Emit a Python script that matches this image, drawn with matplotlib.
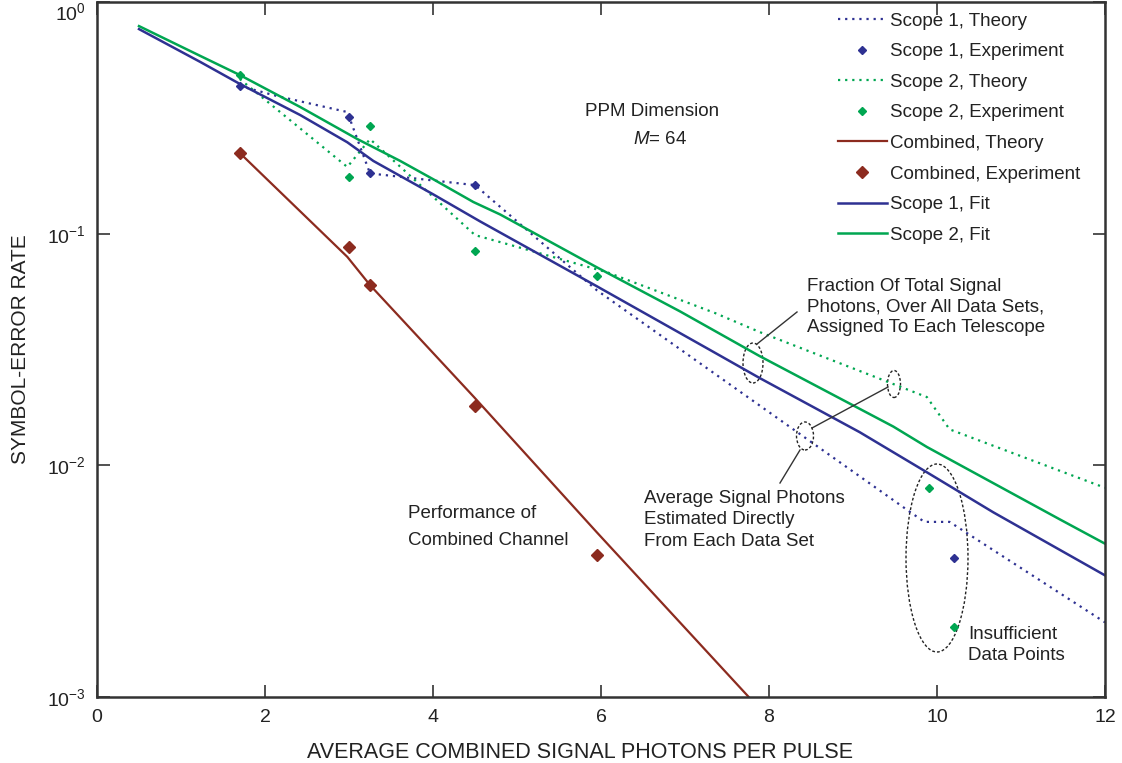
import matplotlib
matplotlib.use('Agg')
import matplotlib.pyplot as plt
from matplotlib.patches import Ellipse

plt.rcParams['font.family'] = ['Liberation Sans', 'DejaVu Sans']
plt.rcParams['mathtext.fontset'] = 'custom'
plt.rcParams['mathtext.rm'] = 'Liberation Sans'
plt.rcParams['mathtext.it'] = 'Liberation Sans:italic'

# experiment points
s1_exp_x = [1.7, 3.0, 3.25, 4.5, 10.2]
s1_exp_y = [0.434, 0.319, 0.182, 0.162, 0.0040]
s2_exp_x = [1.7, 3.0, 3.25, 4.5, 5.95, 9.9, 10.2]
s2_exp_y = [0.484, 0.175, 0.291, 0.084, 0.0655, 0.0080, 0.0020]
comb_exp_x = [1.7, 3.0, 3.25, 4.5, 5.95]
comb_exp_y = [0.223, 0.0874, 0.060, 0.018, 0.0041]

# theory curves
s1_th_x = [1.7, 2.14, 2.98, 3.25, 4.5, 5.95, 7.9, 9.65, 9.85, 10.15, 12]
s1_th_y = [0.434, 0.393, 0.335, 0.182, 0.162, 0.057, 0.018, 0.0064, 0.0057, 0.0057, 0.0021]
s2_th_x = [1.7, 2.98, 3.25, 4.5, 4.94, 6.08, 7.36, 7.89, 9.88, 10.15, 12]
s2_th_y = [0.465, 0.194, 0.256, 0.0986, 0.089, 0.068, 0.0454, 0.0376, 0.0197, 0.0143, 0.0080]
comb_th_x = [1.7, 2.98, 3.25, 4.5, 5.95, 7.9]
comb_th_y = [0.223, 0.0794, 0.060, 0.0195, 0.00514, 0.00088]

# fits
s1_fit_x = [0.5, 1.23, 1.7, 2.42, 2.98, 3.29, 4.0, 4.56, 5.95, 7.33, 7.89, 9.08, 9.88, 10.67, 12]
s1_fit_y = [0.764, 0.551, 0.443, 0.325, 0.248, 0.206, 0.148, 0.113, 0.0593, 0.0310, 0.0238,
            0.0139, 0.00933, 0.00627, 0.00335]
s2_fit_x = [0.5, 1.23, 1.7, 2.42, 3.1, 3.61, 4.0, 4.48, 4.8, 5.95, 6.94, 7.89, 9.48, 9.88, 11.46, 12]
s2_fit_y = [0.787, 0.585, 0.484, 0.352, 0.256, 0.206, 0.172, 0.137, 0.121, 0.0716, 0.0462,
            0.0296, 0.0147, 0.0120, 0.00585, 0.00459]

blue = '#2e3192'
green = '#00a651'
red = '#8c2b1f'
dk = '#333333'
txt = '#222222'

fig = plt.figure(figsize=(11.22, 7.63), dpi=100)
ax = fig.add_axes([97/1122, 66/763, 1008/1122, 695/763])

ax.plot(s1_th_x, s1_th_y, color=blue, ls=(0, (1, 2.2)), lw=1.6, label='Scope 1, Theory')
ax.plot(s1_exp_x, s1_exp_y, 'D', color=blue, ms=4.5, ls='none', label='Scope 1, Experiment')
ax.plot(s2_th_x, s2_th_y, color=green, ls=(0, (1, 2.2)), lw=1.6, label='Scope 2, Theory')
ax.plot(s2_exp_x, s2_exp_y, 'D', color=green, ms=4.5, ls='none', label='Scope 2, Experiment')
ax.plot(comb_th_x, comb_th_y, color=red, lw=1.6, label='Combined, Theory')
ax.plot(comb_exp_x, comb_exp_y, 'D', color=red, ms=6.5, ls='none', label='Combined, Experiment')
ax.plot(s1_fit_x, s1_fit_y, color=blue, lw=1.8, label='Scope 1, Fit')
ax.plot(s2_fit_x, s2_fit_y, color=green, lw=1.8, label='Scope 2, Fit')

ax.set_yscale('log')
ax.set_xlim(0, 12)
ax.set_ylim(1e-3, 1)
ax.set_xticks([0, 2, 4, 6, 8, 10, 12])
ax.set_yticks([1e-3, 1e-2, 1e-1, 1])
ax.minorticks_off()
ax.tick_params(direction='in', length=9, width=1.2, color=dk, labelsize=14,
               labelcolor=txt, top=True, right=True)
ax.tick_params(axis='x', pad=9)
ax.tick_params(axis='y', pad=8)
for s in ax.spines.values():
    s.set_linewidth(1.8)
    s.set_color(dk)

fig.canvas.draw()
ax.get_yticklabels()[-1].set_va('top')

ax.set_xlabel('AVERAGE COMBINED SIGNAL PHOTONS PER PULSE', fontsize=15.5, color=txt, labelpad=8)
ax.xaxis.set_label_coords((580 - 97) / 1008, -0.065)
ax.set_ylabel('SYMBOL-ERROR RATE', fontsize=15, color=txt, labelpad=12)

leg = ax.legend(loc='upper left', bbox_to_anchor=(0.735, 0.985), frameon=False, fontsize=13.5,
                handlelength=2.6, handletextpad=0.2, labelspacing=0.72, borderaxespad=0,
                borderpad=0)
for t in leg.get_texts():
    t.set_color(txt)


def axfrac(px, py):
    return ((px - 97) / 1008, (697 - py) / 695)


# annotations
fs = 13.5
ax.text(*axfrac(652, 112), 'PPM Dimension', fontsize=fs, ha='center', va='center',
        color=txt, transform=ax.transAxes)
ax.text(*axfrac(660, 140), '$M$= 64', fontsize=fs, ha='center', va='center',
        color=txt, transform=ax.transAxes)
ax.text(*axfrac(807, 307), 'Fraction Of Total Signal\nPhotons, Over All Data Sets,\nAssigned To Each Telescope',
        fontsize=fs, ha='left', va='center', linespacing=1.3, color=txt, transform=ax.transAxes)
ax.text(*axfrac(644, 520), 'Average Signal Photons\nEstimated Directly\nFrom Each Data Set',
        fontsize=fs, ha='left', va='center', linespacing=1.35, color=txt, transform=ax.transAxes)
ax.text(*axfrac(408, 527), 'Performance of\nCombined Channel', fontsize=fs, ha='left', va='center',
        linespacing=1.8, color=txt, transform=ax.transAxes)
ax.text(*axfrac(968, 645), 'Insufficient\nData Points', fontsize=fs, ha='left', va='center',
        linespacing=1.35, color=txt, transform=ax.transAxes)

ell_kw = dict(fill=False, ls=(0, (2, 1.5)), lw=1.0, ec=txt, transform=ax.transAxes)
ax.add_patch(Ellipse(axfrac(753, 363), 20/1008, 40/695, **ell_kw))
ax.add_patch(Ellipse(axfrac(894, 384), 13/1008, 27/695, **ell_kw))
ax.add_patch(Ellipse(axfrac(805, 436), 17/1008, 28/695, **ell_kw))
ax.add_patch(Ellipse(axfrac(937, 558), 62/1008, 188/695, **ell_kw))

for (x0, y0), (x1, y1) in [((797, 312), (757, 344)), ((888, 387), (812, 428)), ((800, 450), (780, 483))]:
    a = axfrac(x0, y0)
    b = axfrac(x1, y1)
    ax.plot([a[0], b[0]], [a[1], b[1]], color=dk, lw=1.0, transform=ax.transAxes)

fig.savefig('out.png', dpi=100)
